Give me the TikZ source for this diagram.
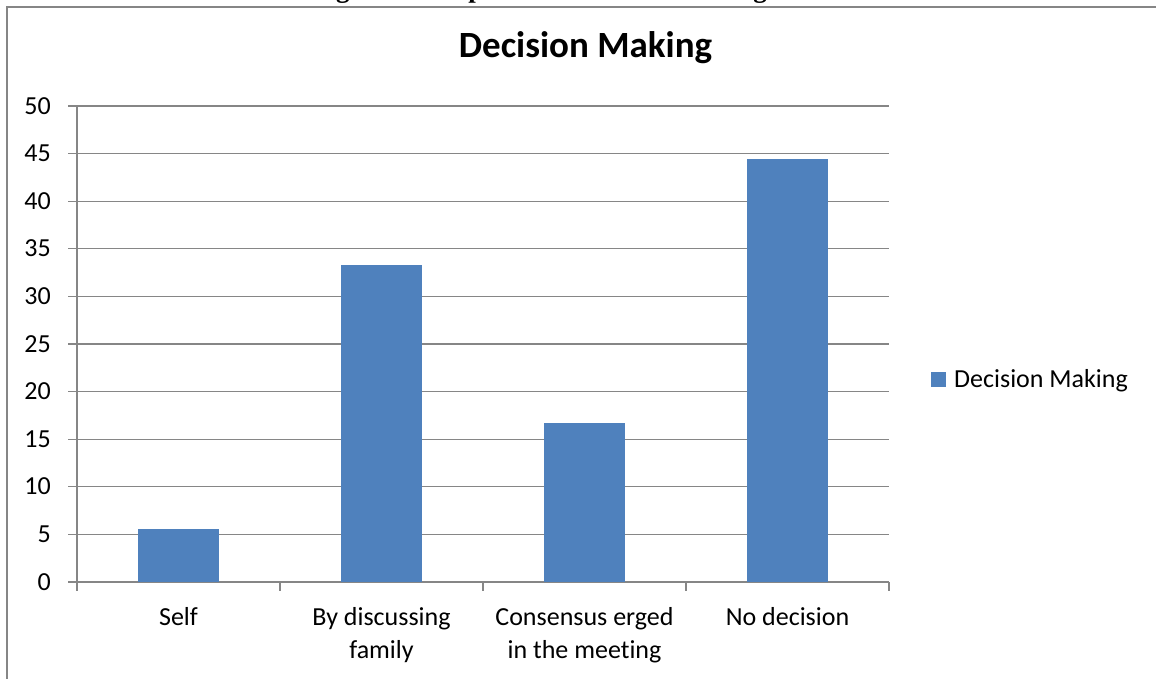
\documentclass[tikz,border=0pt]{standalone}
\usepackage{fontspec}
\setmainfont{Carlito}[Ligatures=NoCommon]
\newfontfamily\capfont{Liberation Serif}
\definecolor{barblue}{RGB}{79,129,189}
\definecolor{gridgray}{RGB}{134,134,134}
\tikzset{
  gridline/.style={draw=gridgray, line width=1.3pt},
  framebox/.style={draw=gridgray, line width=2pt},
  bar/.style={fill=barblue, draw=none},
  ylab/.style={anchor=base east, inner sep=0pt, font=\fontsize{26}{31}\selectfont},
  catlab/.style={anchor=base, inner sep=0pt, font=\fontsize{26}{31}\selectfont},
  titlelab/.style={anchor=base, inner sep=0pt, font=\bfseries\fontsize{37}{44}\selectfont},
  caplab/.style={anchor=base west, inner sep=0pt, font=\capfont\bfseries\fontsize{27}{31}\selectfont}
}
\begin{document}
\begin{tikzpicture}[x=1pt,y=-1pt]
\useasboundingbox (0,0) rectangle (1156,678);
\clip (0,0) rectangle (1156,678);
\fill[white] (0,0) rectangle (1156,678);
% cut-off caption above the chart
\node[caplab] (caption) at (312,-2.5) {Figure 8: Respondents decision making Process};
% chart frame (cut at right and bottom)
\draw[framebox] (7,7) rectangle (1200,720);
% title
\node[titlelab] (title) at (585.5,57) {Decision Making};
% gridlines and y labels
\foreach \v in {0,5,...,50} {
  \draw[gridline] (68,{582-9.52*\v}) -- (889,{582-9.52*\v});
  \node[ylab] (yl\v) at (51,{582-9.52*\v+8}) {\v};
}
% y axis
\draw[gridline] (77,106) -- (77,582);
% x ticks
\foreach \k in {0,1,2,3,4} {
  \draw[gridline] ({77+203*\k},582) -- ({77+203*\k},591);
}
% bars
\foreach \k/\val in {0/5.56,1/33.33,2/16.67,3/44.44} {
  \fill[bar] ({178.5+203*\k-40.5},582) rectangle ({178.5+203*\k+40.5},{582-9.52*\val});
}
% category labels
\node[catlab] (c1) at (178.5,625) {Self};
\node[catlab] (c2a) at (381.5,625) {By discussing};
\node[catlab] (c2b) at (381.5,658) {family};
\node[catlab] (c3a) at (584.5,625) {Consensus erged};
\node[catlab] (c3b) at (584.5,658) {in the meeting};
\node[catlab] (c4) at (787.5,625) {No decision};
% legend
\fill[bar] (931,372) rectangle (946,387);
\node[anchor=base west, inner sep=0pt, font=\fontsize{26}{31}\selectfont] (leg) at (954,387) {Decision Making};
\end{tikzpicture}
\end{document}
